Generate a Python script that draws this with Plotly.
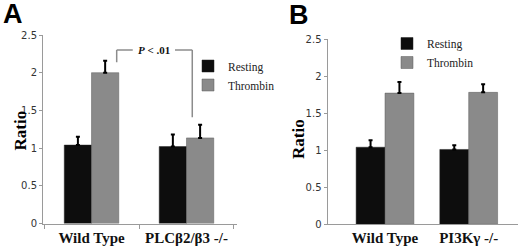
import plotly.graph_objects as go

# ---- data ----
cats_a = ["Wild Type", "PLCβ2/β3 -/-"]
resting_a = [1.04, 1.02]
resting_a_err = [0.11, 0.16]
thrombin_a = [2.00, 1.135]
thrombin_a_err = [0.16, 0.175]

cats_b = ["Wild Type", "PI3Kγ -/-"]
resting_b = [1.04, 1.01]
resting_b_err = [0.095, 0.055]
thrombin_b = [1.77, 1.78]
thrombin_b_err = [0.15, 0.11]

series_names = ["Resting", "Thrombin"]
y_ticks = [0, 0.5, 1, 1.5, 2, 2.5]
y_ticktext = ["0", "0.5", "1", "1.5", "2", "2.5"]
p_label = "<i>P</i> < .01"

# ---- styles / layout helpers ----
C_REST = "#0d0d0d"
C_THR = "#8a8a8a"
AX = "#9a9a9a"
W = 520
H = 247
SERIF = "Liberation Serif, Times New Roman, serif"
SANS = "DejaVu Sans, Verdana, sans-serif"

def xf(px):
    return px / W

def yf(py):
    return 1 - py / H

fig = go.Figure()

def add_pair(cats, rv, re, tv, te, xa, ya, legend, bw):
    fig.add_trace(go.Bar(x=cats, y=rv, name=series_names[0], marker_color=C_REST,
                         marker_line=dict(color="#222", width=0.5), width=bw, offset=-bw,
                         error_y=dict(type="data", array=re, arrayminus=[0]*len(re), symmetric=False,
                                      color="#000", thickness=2, width=2),
                         xaxis=xa, yaxis=ya, legend=legend))
    fig.add_trace(go.Bar(x=cats, y=tv, name=series_names[1], marker_color=C_THR,
                         marker_line=dict(color="#5a5a5a", width=0.5), width=bw, offset=0,
                         error_y=dict(type="data", array=te, arrayminus=[0]*len(te), symmetric=False,
                                      color="#000", thickness=2, width=2),
                         xaxis=xa, yaxis=ya, legend=legend))

add_pair(cats_a, resting_a, resting_a_err, thrombin_a, thrombin_a_err, "x", "y", "legend", 0.287)
add_pair(cats_b, resting_b, resting_b_err, thrombin_b, thrombin_b_err, "x2", "y2", "legend2", 0.345)

xcommon = dict(type="category", showline=True, linecolor=AX, linewidth=1, showgrid=False, automargin=False,
               zeroline=False, tickcolor=AX, ticklen=4, tickson="boundaries",
               tickfont=dict(family=SERIF, size=15, color="#111", weight="bold"), fixedrange=True)
ycommon = dict(range=[0, 2.5], tickvals=y_ticks, ticktext=y_ticktext, showline=True, linecolor=AX,
               linewidth=1, showgrid=False, zeroline=False, ticks="outside", tickcolor=AX, ticklen=3,
               automargin=False,
               tickfont=dict(family=SANS, size=10, color="#333"), fixedrange=True)
legend_common = dict(xanchor="left", yanchor="top", bgcolor="rgba(0,0,0,0)",
                     font=dict(family=SERIF, size=11.5, color="#222"), itemclick=False)

fig.update_layout(
    template="none",
    width=W, height=H, margin=dict(l=0, r=0, t=0, b=0, pad=0), autosize=False,
    paper_bgcolor="white", plot_bgcolor="white", barmode="overlay", showlegend=True,
    hovermode=False,
    xaxis=dict(xcommon, ticks="outside", domain=[xf(43), xf(237)], range=[-0.511, 1.532], anchor="y"),
    yaxis=dict(ycommon, domain=[yf(223.5), yf(35)], anchor="x"),
    xaxis2=dict(xcommon, ticks="", domain=[xf(327.5), xf(518)], range=[-0.687, 1.589], anchor="y2"),
    yaxis2=dict(ycommon, domain=[yf(224.3), yf(39)], anchor="x2"),
    legend=dict(legend_common, x=xf(188), y=yf(51.5)),
    legend2=dict(legend_common, x=xf(387), y=yf(29)),
)

# bracket for significance (data coords on panel A)
bx_left, bx_gap1, bx_gap2, bx_right = 0.265, 0.434, 0.879, 1.061
by_top, by_left_bottom, by_right_bottom = 2.30, 2.14, 1.41
line = dict(color="#8c8c8c", width=1.5)
for x0, y0, x1, y1 in [(bx_left, by_left_bottom, bx_left, by_top),
                       (bx_left, by_top, bx_gap1, by_top),
                       (bx_gap2, by_top, bx_right, by_top),
                       (bx_right, by_top, bx_right, by_right_bottom)]:
    fig.add_shape(type="line", xref="x", yref="y", x0=x0, y0=y0, x1=x1, y1=y1, line=line)
fig.add_annotation(xref="x", yref="y", x=(bx_gap1 + bx_gap2) / 2, y=by_top, text="<b>" + p_label + "</b>",
                   showarrow=False, xanchor="center", yanchor="middle",
                   font=dict(family=SERIF, size=11, color="#111"))

letter_font = dict(family="Liberation Sans, Arial, sans-serif", size=27, color="#000")
fig.add_annotation(xref="paper", yref="paper", x=xf(12.5), y=yf(14), text="<b>A</b>", showarrow=False,
                   xanchor="center", yanchor="middle", font=letter_font)
fig.add_annotation(xref="paper", yref="paper", x=xf(298.5), y=yf(15), text="<b>B</b>", showarrow=False,
                   xanchor="center", yanchor="middle", font=letter_font)

title_font = dict(family=SERIF, size=17, color="#000")
fig.add_annotation(xref="paper", yref="paper", x=xf(19.5), y=yf(131), text="<b>Ratio</b>", textangle=-90,
                   showarrow=False, xanchor="center", yanchor="middle", font=title_font)
fig.add_annotation(xref="paper", yref="paper", x=xf(298), y=yf(139), text="<b>Ratio</b>", textangle=-90,
                   showarrow=False, xanchor="center", yanchor="middle", font=title_font)

# the page's default 8px body margin would shift and clip the fixed-size figure
fig.write_html("out.html", config={"displayModeBar": False, "staticPlot": True},
               post_script="document.body.style.margin='0';")
